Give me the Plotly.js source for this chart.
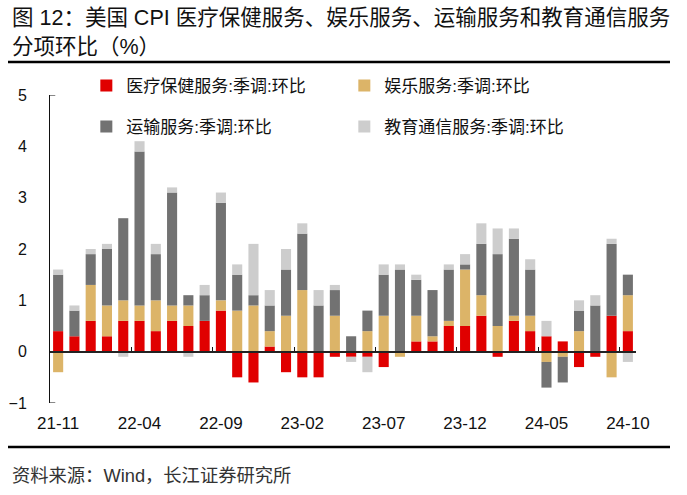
<!DOCTYPE html>
<html>
<head>
<meta charset="utf-8">
<script src="https://cdn.plot.ly/plotly-3.0.1.min.js"></script>
<style>
  html, body { margin: 0; padding: 0; background: #fff; }
  #chart { width: 687px; height: 495px; }
</style>
</head>
<body>
<div id="chart"></div>
<script>
// month labels (yy-mm)
const months = [
  '21-11', '21-12', '22-01', '22-02', '22-03', '22-04', '22-05', '22-06', '22-07', '22-08', '22-09', '22-10',
  '22-11', '22-12', '23-01', '23-02', '23-03', '23-04', '23-05', '23-06', '23-07', '23-08', '23-09', '23-10',
  '23-11', '23-12', '24-01', '24-02', '24-03', '24-04', '24-05', '24-06', '24-07', '24-08', '24-09', '24-10'
];

// seasonally adjusted m/m, %
const medical = [
  0.4, 0.3, 0.6, 0.3, 0.6, 0.6, 0.4, 0.6, 0.5, 0.6, 0.8, -0.5,
  -0.6, 0.1, -0.4, -0.5, -0.5, -0.1, -0.1, -0.1, -0.3, 0.0, 0.2, 0.2,
  0.5, 0.5, 0.7, -0.1, 0.6, 0.4, 0.3, 0.2, -0.3, -0.1, 0.7, 0.4
];
const recreation = [
  -0.4, 0.0, 0.7, 0.6, 0.4, 0.3, 0.6, 0.3, 0.4, 0.0, 0.2, 0.8,
  0.9, 0.3, 0.7, 1.2, 0.0, 0.7, 0.0, 0.4, 0.7, -0.1, 0.5, 0.1,
  0.1, 1.1, 0.4, 0.5, 0.1, 0.3, -0.2, -0.1, 0.4, 0.0, -0.5, 0.7
];
const transport = [
  1.1, 0.5, 0.6, 1.1, 1.6, 3.0, 0.9, 2.2, 0.2, 0.5, 1.9, 0.7,
  0.2, 0.5, 0.9, 1.1, 0.9, 0.5, 0.3, 0.4, 0.8, 1.6, 0.7, 0.9,
  1.0, 0.1, 1.0, 1.4, 1.5, 0.9, -0.5, -0.5, 0.4, 0.9, 1.4, 0.4
];
const education = [
  0.1, 0.1, 0.1, 0.1, -0.1, 0.2, 0.2, 0.1, -0.1, 0.2, 0.2, 0.2,
  1.0, 0.3, 0.4, 0.2, 0.3, 0.1, -0.1, -0.3, 0.2, 0.1, 0.1, 0.0,
  0.1, 0.2, 0.4, 0.5, 0.2, 0.2, 0.3, 0.0, 0.2, 0.2, 0.1, -0.2
];

const FONT = '"Liberation Sans", Arial, "Noto Sans CJK SC", sans-serif';

function bar(name, y, color, legend) {
  return {
    type: 'bar',
    name: name,
    x: months,
    y: y,
    marker: {color: color, line: {width: 0}},
    legend: legend,
    hoverinfo: 'x+y+name'
  };
}

const traces = [
  bar('医疗保健服务:季调:环比', medical, '#e00000', 'legend'),
  bar('娱乐服务:季调:环比', recreation, '#dcb468', 'legend'),
  bar('运输服务:季调:环比', transport, '#727272', 'legend2'),
  bar('教育通信服务:季调:环比', education, '#cdcdcd', 'legend2')
];

// plot area in px: x 50..636, y 95..403
const px = v => (v - 50) / 586;
const py = v => (403 - v) / 308;

const legendBase = {
  orientation: 'h',
  xanchor: 'left',
  yanchor: 'middle',
  x: 0.062,
  bgcolor: 'rgba(0,0,0,0)',
  font: {family: FONT, size: 17, color: '#111'},
  entrywidth: 213,
  itemclick: false,
  itemdoubleclick: false
};

const layout = {
  width: 687,
  height: 495,
  margin: {l: 50, r: 51, t: 95, b: 92},
  paper_bgcolor: '#fff',
  plot_bgcolor: '#fff',
  barmode: 'relative',
  bargap: 0.38,
  font: {family: FONT, color: '#111'},
  showlegend: true,
  legend: Object.assign({}, legendBase, {y: py(86)}),
  legend2: Object.assign({}, legendBase, {y: py(127)}),
  xaxis: {
    type: 'category',
    categoryorder: 'array',
    categoryarray: months,
    range: [-0.5, 35.5],
    anchor: 'free',
    position: 1 / 6,
    showline: true,
    linecolor: '#222',
    linewidth: 2,
    showgrid: false,
    zeroline: false,
    ticks: 'inside',
    tickson: 'boundaries',
    ticklen: 4,
    tickcolor: '#111',
    tickwidth: 1,
    dtick: 5,
    tick0: 0,
    tickangle: 0,
    ticklabelstandoff: 56,
    tickfont: {family: FONT, size: 17, color: '#111'}
  },
  yaxis: {
    range: [-1, 5],
    dtick: 1,
    showgrid: false,
    zeroline: false,
    showline: true,
    linecolor: '#111',
    linewidth: 1,
    ticks: '',
    ticklabelstandoff: 19,
    tickfont: {family: FONT, size: 16, color: '#111'}
  },
  shapes: [
    // end ticks of the value axis
    {type: 'line', xref: 'paper', yref: 'y', x0: 0, x1: 0.009, y0: 5, y1: 5, line: {color: '#111', width: 1}},
    {type: 'line', xref: 'paper', yref: 'y', x0: 0, x1: 0.009, y0: -1, y1: -1, line: {color: '#111', width: 1}},
    // rules under the title and above the source
    {type: 'line', xref: 'paper', yref: 'paper', x0: px(8), x1: px(670), y0: py(62), y1: py(62), line: {color: '#000', width: 2.5}},
    {type: 'line', xref: 'paper', yref: 'paper', x0: px(8), x1: px(670), y0: py(447), y1: py(447), line: {color: '#000', width: 2.5}}
  ],
  annotations: [
    {xref: 'paper', yref: 'paper', x: px(10), y: py(18), xanchor: 'left', yanchor: 'middle', showarrow: false,
     text: '图 12：美国 CPI 医疗保健服务、娱乐服务、运输服务和教育通信服务',
     font: {family: FONT, size: 21.5, color: '#111'}},
    {xref: 'paper', yref: 'paper', x: px(10), y: py(47), xanchor: 'left', yanchor: 'middle', showarrow: false,
     text: '分项环比（%）',
     font: {family: FONT, size: 21.5, color: '#111'}},
    {xref: 'paper', yref: 'paper', x: px(10), y: py(475), xanchor: 'left', yanchor: 'middle', showarrow: false,
     text: '资料来源：Wind，长江证券研究所',
     font: {family: FONT, size: 18.3, color: '#333'}}
  ]
};

Plotly.newPlot('chart', traces, layout, {displayModeBar: false, staticPlot: true});
</script>
</body>
</html>
